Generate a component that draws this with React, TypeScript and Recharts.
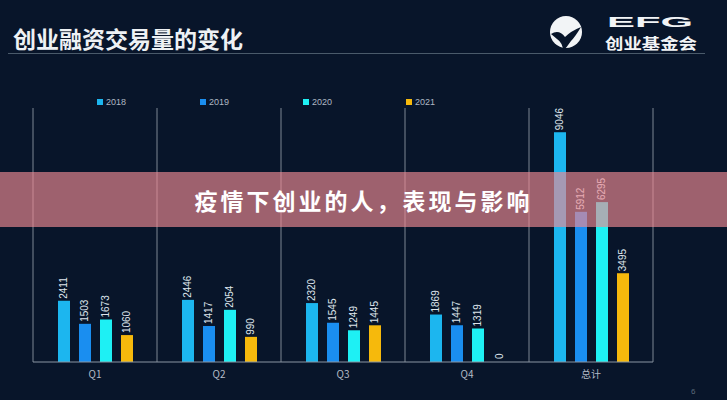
import { Bar, BarChart, CartesianGrid, LabelList, XAxis, YAxis } from 'recharts';

const categories = ['Q1', 'Q2', 'Q3', 'Q4', '总计'];
const years = ['2018', '2019', '2020', '2021'];
const values2018 = [2411, 2446, 2320, 1869, 9046];
const values2019 = [1503, 1417, 1545, 1447, 5912];
const values2020 = [1673, 2054, 1249, 1319, 6295];
const values2021 = [1060, 990, 1445, 0, 3495];
const colors = ['#1cb6ef', '#1a8ef0', '#1ef0f4', '#f6b90c'];

const seriesValues = [values2018, values2019, values2020, values2021];
const data = categories.map((name, i) => {
  const row: Record<string, string | number> = { name };
  years.forEach((y, j) => {
    row[y] = seriesValues[j][i];
  });
  return row;
});

const latin = '"Liberation Sans", Arial, sans-serif';
const cjk = '"Noto Sans CJK SC", "Noto Sans", sans-serif';

const renderLabel = (props: any) => {
  const vb = props.viewBox || {};
  const x = Number(props.x ?? vb.x);
  const y = Number(props.y ?? vb.y);
  const width = Number(props.width ?? vb.width);
  const cx = x + width / 2;
  const ty = y - 2;
  return (
    <text
      x={cx}
      y={ty}
      transform={`rotate(-90 ${cx} ${ty})`}
      textAnchor="start"
      dominantBaseline="central"
      fill="#dfe5ec"
      fontSize={10}
      fontFamily={latin}
    >
      {props.value}
    </text>
  );
};

// zero values keep their label but draw no bar
const barShape = (key: string) => (props: any) => {
  const v = Number(props.payload?.[key] ?? 0);
  if (v <= 0) return <g />;
  return <rect x={props.x} y={props.y} width={props.width} height={props.height} fill={props.fill} />;
};

function Logo() {
  return (
    <svg width={160} height={50} style={{ position: 'absolute', left: 545, top: 8 }}>
      <circle cx={21} cy={24} r={16} fill="#f2f4f6" />
      <path d="M6 26 Q14 21 20 29 Q26 23 36 19 Q30 29 26 33 Q22 39 18 43 Q18 35 12 31 Z" fill="#08152a" />
      <text x={62} y={19} fill="#f2f4f6" fontSize={14} fontWeight={900} fontFamily={latin} textLength={86} lengthAdjust="spacingAndGlyphs">
        EFG
      </text>
      <text x={60} y={41} fill="#f2f4f6" fontSize={15} fontWeight={700} fontFamily={cjk} textLength={92} lengthAdjust="spacingAndGlyphs">
        创业基金会
      </text>
    </svg>
  );
}

export default function App() {
  return (
    <div
      style={{
        position: 'absolute',
        left: 0,
        top: 0,
        width: 727,
        height: 400,
        background: '#08152a',
        overflow: 'hidden',
      }}
    >
      <div
        style={{
          position: 'absolute',
          left: 13,
          top: 23,
          color: '#eef1f4',
          fontFamily: cjk,
          fontWeight: 700,
          fontSize: 23,
          lineHeight: '30px',
        }}
      >
        创业融资交易量的变化
      </div>
      <Logo />
      <div style={{ position: 'absolute', left: 8, top: 53, width: 697, height: 1, background: '#4a5a6a' }} />

      {years.map((y, i) => (
        <div
          key={y}
          style={{
            position: 'absolute',
            left: 97 + i * 103,
            top: 97,
            display: 'flex',
            alignItems: 'center',
            fontFamily: latin,
            fontSize: 9,
            color: '#aeb7c2',
          }}
        >
          <span style={{ width: 6, height: 6, background: colors[i], marginRight: 3 }} />
          {y}
        </div>
      ))}

      <div style={{ position: 'absolute', left: 0, top: 0 }}>
        <BarChart
          width={727}
          height={400}
          data={data}
          margin={{ top: 108, right: 74, left: 33, bottom: 18 }}
          barSize={12}
          barGap={9}
        >
          <CartesianGrid
            horizontal={false}
            stroke="#7c8792"
            verticalCoordinatesGenerator={({ offset }: any) =>
              categories.concat('').map((_, i) => offset.left + (i * offset.width) / categories.length)
            }
          />
          <XAxis
            dataKey="name"
            height={20}
            axisLine={{ stroke: '#8a96a3' }}
            tickLine={false}
            tick={{ fill: '#b4bcc7', fontSize: 10, fontFamily: cjk }}
            tickMargin={3}
          />
          <YAxis hide domain={[0, 10000]} />
          {years.map((y, i) => (
            <Bar
              key={y}
              dataKey={y}
              fill={colors[i]}
              minPointSize={1}
              shape={barShape(y)}
              isAnimationActive={false}
            >
              <LabelList dataKey={y} content={renderLabel} />
            </Bar>
          ))}
        </BarChart>
      </div>

      <div
        style={{
          position: 'absolute',
          left: 0,
          top: 172,
          width: 727,
          height: 55,
          background: 'rgba(239,138,147,0.65)',
          display: 'flex',
          alignItems: 'center',
          justifyContent: 'center',
          color: '#ffffff',
          fontFamily: cjk,
          fontWeight: 700,
          fontSize: 23,
          letterSpacing: 3,
        }}
      >
        疫情下创业的人，表现与影响
      </div>

      <div style={{ position: 'absolute', left: 691, top: 387, fontSize: 8, color: '#5d6b7a', fontFamily: latin }}>6</div>
    </div>
  );
}
